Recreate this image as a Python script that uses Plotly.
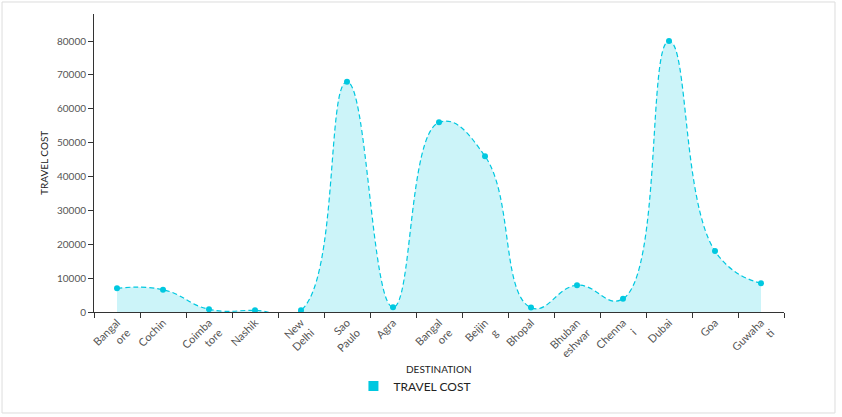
import plotly.graph_objects as go

# Travel cost per destination
destinations = ['Bangalore', 'Cochin', 'Coimbatore', 'Nashik', 'New Delhi', 'Sao Paulo', 'Agra',
                'Bangalore', 'Beijing', 'Bhopal', 'Bhubaneswar', 'Chennai', 'Dubai', 'Goa', 'Guwahati']
tick_labels = ['Bangal<br>ore', 'Cochin', 'Coimba<br>tore', 'Nashik', 'New<br>Delhi', 'Sao<br>Paulo', 'Agra',
               'Bangal<br>ore', 'Beijin<br>g', 'Bhopal', 'Bhuban<br>eshwar', 'Chenna<br>i', 'Dubai', 'Goa', 'Guwaha<br>ti']
travel_cost = [7000, 6600, 800, 500, 500, 68000, 1400, 56000, 46000, 1300, 7900, 3900, 80000, 18000, 8500]

idx = list(range(len(destinations)))
cyan = '#00C8E0'
font = 'Lato, Open Sans, sans-serif'

fig = go.Figure()
fig.add_trace(go.Scatter(
    x=idx, y=travel_cost, mode='lines+markers', name='TRAVEL COST',
    line=dict(shape='spline', smoothing=1.3, color=cyan, width=1.2, dash='5px,3px'),
    marker=dict(size=6, color=cyan),
    fill='tozeroy', fillcolor='rgba(0,200,224,0.2)',
    text=destinations, hovertemplate='%{text}: %{y}<extra></extra>',
    showlegend=False,
))
# legend swatch
fig.add_trace(go.Scatter(
    x=[None], y=[None], mode='markers', name='TRAVEL COST',
    marker=dict(symbol='square', size=10, color=cyan),
))

fig.update_layout(
    width=842, height=417,
    margin=dict(l=94, r=58, t=14, b=105),
    paper_bgcolor='white', plot_bgcolor='white',
    font=dict(family=font, size=10, color='#444'),
    showlegend=True,
    legend=dict(orientation='h', x=0.376, xanchor='left', y=-0.248, yanchor='middle',
                font=dict(size=12, color='#222')),
    xaxis=dict(
        range=[-0.5, len(idx) - 0.5],
        tickvals=idx, ticktext=tick_labels, tickangle=-45,
        ticks='', showgrid=False, zeroline=False,
        showline=True, linecolor='#333', linewidth=1,
        minor=dict(tick0=0.5, dtick=1, ticks='outside', ticklen=5, tickcolor='#333', showgrid=False),
        tickfont=dict(size=11, color='#555'),
        ticklabelstandoff=-1,
    ),
    yaxis=dict(
        range=[0, 88000], dtick=10000, tickformat='d',
        ticks='outside', ticklen=5, tickcolor='#333',
        showgrid=False, zeroline=False,
        showline=True, linecolor='#333', linewidth=1,
        tickfont=dict(size=10, color='#555'),
    ),
    annotations=[
        dict(text='DESTINATION', xref='paper', yref='paper', x=0.5, y=-0.191,
             xanchor='center', yanchor='middle',
             showarrow=False, font=dict(size=10, color='#222')),
        dict(text='TRAVEL COST', xref='paper', yref='paper', x=-0.0725, y=0.5, textangle=-90,
             xanchor='center', yanchor='middle',
             showarrow=False, font=dict(size=10, color='#222')),
    ],
    shapes=[
        dict(type='rect', xref='paper', yref='paper', x0=-0.1333, x1=1.0739, y0=-0.3389, y1=1.0403,
             line=dict(color='#dddddd', width=1), layer='below'),
    ],
)

fig.write_html('out.html', config={'displayModeBar': False},
               post_script="document.body.style.margin='0';")
